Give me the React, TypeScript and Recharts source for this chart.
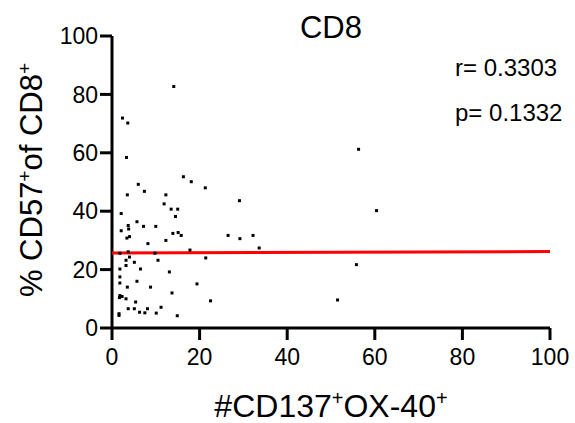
import { ScatterChart, Scatter, XAxis, YAxis } from 'recharts'

// values
const cd137ox40 = [
    14.1, 2.4, 3.6, 3.3, 56.3, 60.4, 16.3, 18.1, 21.3, 6.0,
    7.4, 3.5, 12.3, 29.1, 11.9, 13.5, 15.0, 14.5, 2.1, 5.7,
    3.7, 3.8, 7.2, 10.0, 2.1, 3.4, 4.0, 13.9, 15.1, 15.8,
    12.3, 8.2, 26.5, 29.2, 32.2, 33.6, 17.8, 3.7, 1.8, 9.8,
    21.4, 4.0, 3.2, 10.5, 5.1, 3.2, 6.5, 1.8, 13.1, 1.8,
    1.8, 5.7, 19.4, 3.5, 8.8, 13.7, 1.8, 2.3, 1.7, 3.2,
    5.4, 22.5, 51.5, 55.8, 3.7, 5.1, 8.1, 11.2, 6.3, 7.5,
    10.1, 14.9, 1.6, 1.6,
]
const cd57pct = [
    82.7, 71.9, 70.2, 58.4, 61.2, 40.2, 51.8, 50.1, 48.0, 49.2,
    46.8, 45.6, 45.6, 43.6, 42.5, 40.7, 40.7, 38.2, 39.2, 36.4,
    35.1, 33.9, 34.8, 34.8, 33.3, 30.8, 31.3, 32.4, 32.7, 31.7,
    30.0, 28.9, 31.7, 30.6, 31.7, 27.4, 26.7, 26.1, 25.6, 25.6,
    24.0, 24.3, 23.2, 23.2, 22.5, 21.4, 20.2, 20.2, 19.2, 17.5,
    15.4, 16.0, 15.1, 14.0, 14.0, 12.0, 11.1, 10.8, 10.4, 10.0,
    8.9, 9.3, 9.6, 21.7, 6.6, 6.6, 6.6, 7.1, 5.4, 5.2,
    5.1, 4.2, 4.9, 4.3,
]
// linear fit line end points
const fitX = [0, 100]
const fitY = [25.7, 26.2]
const ticks = [0, 20, 40, 60, 80, 100]

const points = cd137ox40.map((x, i) => ({ x, y: cd57pct[i] }))
const fitLine = fitX.map((x, i) => ({ x, y: fitY[i] }))

const font = '"Liberation Sans", Arial, sans-serif'

const Dot = (props: any) => {
    const { cx, cy } = props
    if (cx == null || cy == null) return null
    return <rect x={cx - 1.5} y={cy - 1.5} width={3} height={3} fill="#000" />
}

export default function App() {
    const axisStroke = { stroke: '#000', strokeWidth: 3 }
    return (
        <div style={{ position: 'absolute', left: 0, top: 0, width: 575, height: 423, background: '#fff' }}>
            <ScatterChart width={575} height={423} margin={{ top: 36, right: 25, bottom: 30, left: 0 }}>
                <XAxis
                    type="number"
                    dataKey="x"
                    domain={[0, 100]}
                    ticks={ticks}
                    height={65}
                    tickSize={12}
                    tickMargin={9}
                    axisLine={axisStroke}
                    tickLine={axisStroke}
                    tick={{ fill: '#000', fontSize: 23, fontFamily: font }}
                    allowDataOverflow
                />
                <YAxis
                    type="number"
                    dataKey="y"
                    domain={[0, 100]}
                    ticks={ticks}
                    width={112}
                    tickSize={12}
                    tickMargin={2}
                    axisLine={axisStroke}
                    tickLine={axisStroke}
                    tick={{ fill: '#000', fontSize: 23, fontFamily: font }}
                    allowDataOverflow
                />
                <Scatter
                    data={fitLine}
                    line={{ stroke: '#ff0000', strokeWidth: 3 }}
                    shape={() => null}
                    isAnimationActive={false}
                />
                <Scatter data={points} shape={<Dot />} isAnimationActive={false} />
            </ScatterChart>
            <svg
                width={575}
                height={423}
                style={{ position: 'absolute', left: 0, top: 0, pointerEvents: 'none' }}
                fontFamily={font}
                fill="#000"
            >
                <text x={331} y={38} textAnchor="middle" fontSize={31}>CD8</text>
                <text x={455} y={76} fontSize={24}>r= 0.3303</text>
                <text x={455} y={121} fontSize={24}>p= 0.1332</text>
                <text x={331} y={417} textAnchor="middle" fontSize={32}>
                    #CD137<tspan fontSize={20} dy={-12}>+</tspan>
                    <tspan dy={12}>OX-40</tspan>
                    <tspan fontSize={20} dy={-12}>+</tspan>
                </text>
                <text transform="translate(42,180) rotate(-90)" textAnchor="middle" fontSize={31}>
                    % CD57<tspan fontSize={19} dy={-11}>+</tspan>
                    <tspan dy={11}>of CD8</tspan>
                    <tspan fontSize={19} dy={-11}>+</tspan>
                </text>
            </svg>
        </div>
    )
}
